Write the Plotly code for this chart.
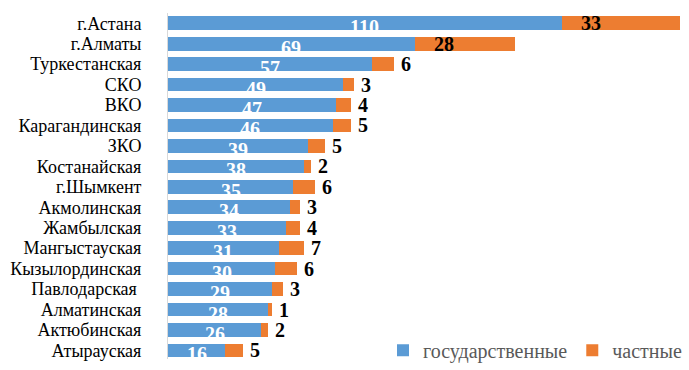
import plotly.graph_objects as go

regions = ["г.Астана", "г.Алматы", "Туркестанская", "СКО", "ВКО", "Карагандинская",
           "ЗКО", "Костанайская", "г.Шымкент", "Акмолинская", "Жамбылская",
           "Мангыстауская", "Кызылординская", "Павлодарская ", "Алматинская",
           "Актюбинская", "Атырауская"]
state = [110, 69, 57, 49, 47, 46, 39, 38, 35, 34, 33, 31, 30, 29, 28, 26, 16]
private = [33, 28, 6, 3, 4, 5, 5, 2, 6, 3, 4, 7, 6, 3, 1, 2, 5]

SERIF = "Times New Roman"
BLUE = "#5B9BD5"
ORANGE = "#ED7D31"

fig = go.Figure()
fig.add_trace(go.Bar(
    y=regions, x=state, orientation="h", name="государственные",
    marker=dict(color=BLUE, line=dict(width=0)), hoverinfo="skip",
))
fig.add_trace(go.Bar(
    y=regions, x=private, orientation="h", name="частные",
    marker=dict(color=ORANGE, line=dict(width=0)), hoverinfo="skip",
))

label_font = dict(family=SERIF, size=20, weight="bold")
for r, s, p in zip(regions, state, private):
    # state count, white, in the middle of the blue segment
    fig.add_annotation(x=s / 2, y=r, text=str(s), showarrow=False,
                       xanchor="center", yanchor="middle", yshift=-4,
                       font=dict(color="white", **label_font))
    if p >= 20:
        # wide private segment: label sits inside it, near its start
        fig.add_annotation(x=s, y=r, text=str(p), showarrow=False,
                           xanchor="left", yanchor="middle", xshift=17,
                           font=dict(color="black", **label_font))
    else:
        # narrow private segment: label just past the bar end
        fig.add_annotation(x=s + p, y=r, text=str(p), showarrow=False,
                           xanchor="left", yanchor="middle", xshift=5,
                           font=dict(color="black", **label_font))

fig.update_layout(
    width=689, height=370,
    barmode="stack", bargap=0.33,
    margin=dict(l=168, r=2, t=13, b=0),
    paper_bgcolor="white", plot_bgcolor="white",
    legend=dict(orientation="h", x=1.0, xanchor="right", y=0.025, yanchor="middle",
                font=dict(family=SERIF, size=20, color="#595959"),
                bgcolor="rgba(255,255,255,0)", traceorder="normal"),
    xaxis=dict(range=[0, 145], visible=False),
    yaxis=dict(
        categoryorder="array", categoryarray=regions,
        tickmode="array", tickvals=regions, ticktext=regions,
        range=[16.42, -0.5],
        showgrid=False, zeroline=False,
        showline=True, linecolor="#D9D9D9", linewidth=1,
        ticks="", ticklabelstandoff=22,
        tickfont=dict(family=SERIF, size=18, color="black"),
    ),
)

fig.write_html("out.html")
